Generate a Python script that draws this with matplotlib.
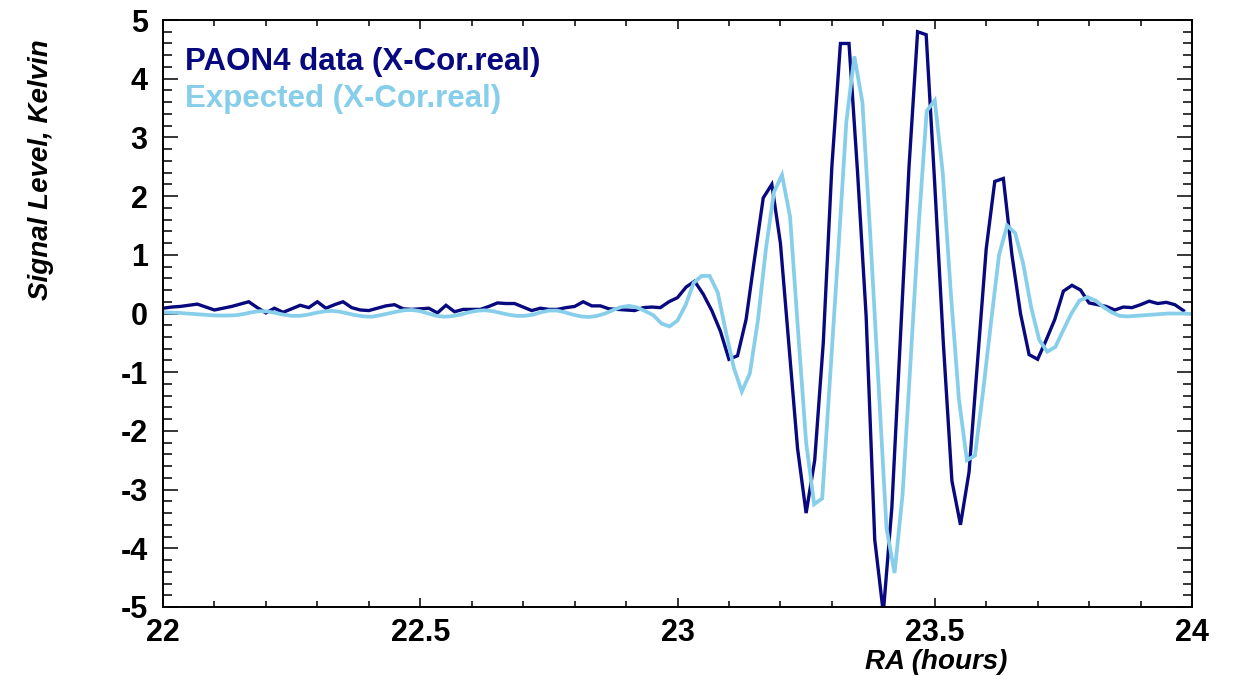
import numpy as np
import matplotlib
matplotlib.use("Agg")
import matplotlib.pyplot as plt
from matplotlib.ticker import MultipleLocator

# ---- data ----
# PAON4 data: sampled every minute from 22h
data_ra_start = 22.0
data_ra_step = 1.0 / 60.0
data_values = [
    0.09, 0.11, 0.12, 0.14, 0.16, 0.11, 0.06, 0.09, 0.12, 0.16,
    0.20, 0.10, 0.01, 0.09, 0.02, 0.08, 0.14, 0.10, 0.20, 0.09,
    0.15, 0.20, 0.10, 0.06, 0.05, 0.09, 0.13, 0.15, 0.08, 0.07,
    0.08, 0.09, 0.01, 0.14, 0.03, 0.07, 0.07, 0.07, 0.12, 0.18,
    0.17, 0.17, 0.11, 0.05, 0.09, 0.07, 0.07, 0.10, 0.12, 0.20,
    0.13, 0.13, 0.08, 0.07, 0.06, 0.05, 0.10, 0.11, 0.10, 0.20,
    0.27, 0.45, 0.55, 0.33, 0.05, -0.30, -0.78, -0.72, -0.10, 0.95,
    1.97, 2.20, 1.20, -0.55, -2.30, -3.40, -2.50, -0.50, 2.50, 4.60,
    4.60, 2.40, -0.05, -3.85, -5.10, -3.30, -0.40, 2.50, 4.80, 4.75,
    2.20, -0.50, -2.85, -3.60, -2.70, -0.80, 1.10, 2.25, 2.30, 1.00,
    0.00, -0.70, -0.78, -0.45, -0.10, 0.38, 0.48, 0.40, 0.18, 0.15,
    0.12, 0.06, 0.11, 0.10, 0.15, 0.21, 0.17, 0.19, 0.15, 0.05,
]

# Expected signal: 129 samples spanning 22h-24h
expected_ra_start = 22.0
expected_ra_end = 24.0
expected_values = [
    0.02, 0.015, 0.01, 0.00, -0.01, -0.02, -0.03, -0.035, -0.035, -0.03,
    -0.01, 0.02, 0.04, 0.035, 0.01, -0.02, -0.04, -0.04, -0.02, 0.01,
    0.035, 0.045, 0.03, 0.00, -0.03, -0.05, -0.055, -0.03, 0.00, 0.03,
    0.055, 0.06, 0.04, 0.00, -0.04, -0.055, -0.045, -0.02, 0.02, 0.045,
    0.055, 0.04, 0.01, -0.02, -0.04, -0.04, -0.02, 0.02, 0.05, 0.05,
    0.02, -0.02, -0.05, -0.06, -0.04, 0.00, 0.06, 0.11, 0.13, 0.10,
    0.04, -0.03, -0.17, -0.22, -0.12, 0.14, 0.52, 0.64, 0.64, 0.36,
    -0.30, -0.92, -1.33, -1.02, -0.12, 1.10, 2.07, 2.36, 1.65, -0.30,
    -2.20, -3.25, -3.15, -1.05, 1.06, 3.26, 4.38, 3.60, 1.29, -1.18,
    -3.66, -4.42, -3.08, -0.80, 1.50, 3.45, 3.63, 2.39, 0.35, -1.45,
    -2.50, -2.42, -1.34, -0.15, 1.00, 1.50, 1.37, 0.85, 0.10, -0.45,
    -0.65, -0.57, -0.28, 0.00, 0.22, 0.28, 0.22, 0.11, 0.02, -0.04,
    -0.05, -0.04, -0.03, -0.02, -0.01, 0.00, 0.00, 0.00, -0.01,
]

legend_labels = ["PAON4 data (X-Cor.real)", "Expected (X-Cor.real)"]
x_label = "RA (hours)"
y_label = "Signal Level, Kelvin"
x_ticks = [22, 22.5, 23, 23.5, 24]
y_ticks = [-5, -4, -3, -2, -1, 0, 1, 2, 3, 4, 5]

# ---- plotting ----
plt.rcParams['font.family'] = ['Liberation Sans', 'DejaVu Sans']

data_ra = data_ra_start + data_ra_step * np.arange(len(data_values))
expected_ra = np.linspace(expected_ra_start, expected_ra_end, len(expected_values))

dark = '#08087f'
light = '#87ceeb'

fig = plt.figure(figsize=(12.38, 6.76), dpi=100)
ax = fig.add_axes([163 / 1238, 1 - 607 / 676, (1192 - 163) / 1238, (607 - 20) / 676])

ax.plot(data_ra, data_values, color=dark, lw=2.4, solid_joinstyle='miter')
ax.plot(expected_ra, expected_values, color=light, lw=2.7, solid_joinstyle='miter')

ax.set_xlim(22, 24)
ax.set_ylim(-5, 5)
ax.set_xticks(x_ticks)
ax.set_xticklabels([f"{t:g}" for t in x_ticks])
ax.set_yticks(y_ticks)
ax.set_yticklabels([f"{t:d}" for t in y_ticks])
ax.xaxis.set_minor_locator(MultipleLocator(0.1))
ax.yaxis.set_minor_locator(MultipleLocator(0.2))

ax.tick_params(axis='both', which='both', direction='in', top=True, right=True,
               width=1.1, colors='black')
ax.tick_params(axis='x', which='major', length=6.5, pad=8)
ax.tick_params(axis='x', which='minor', length=4.3)
ax.tick_params(axis='y', which='major', length=11, pad=11)
ax.tick_params(axis='y', which='minor', length=6.5)
for lbl in ax.get_xticklabels() + ax.get_yticklabels():
    lbl.set_fontsize(22)
    lbl.set_fontweight('bold')
for sp in ax.spines.values():
    sp.set_linewidth(1.4)

# legend as coloured text
ax.text(22 / 1029, (607 - 70) / 587, legend_labels[0], transform=ax.transAxes,
        color=dark, fontsize=22.5, fontweight='bold', va='baseline', ha='left')
ax.text(22 / 1029, (607 - 107) / 587, legend_labels[1], transform=ax.transAxes,
        color=light, fontsize=22.5, fontweight='bold', va='baseline', ha='left')

fig.text(41 / 1238, 1 - 170 / 676, y_label, rotation=90, ha='center', va='center',
         fontsize=20, fontweight='bold', fontstyle='italic')
fig.text(936 / 1238, 1 - 662 / 676, x_label, ha='center', va='center',
         fontsize=20, fontweight='bold', fontstyle='italic')

fig.savefig('out.png', dpi=100)
